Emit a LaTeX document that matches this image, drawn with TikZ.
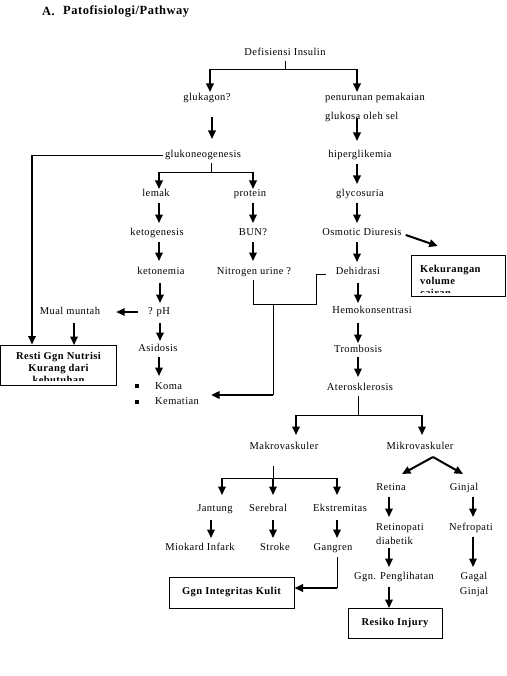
\documentclass[tikz,border=0pt]{standalone}
\usepackage{fontspec}
\setmainfont{Liberation Serif}[LetterSpace=4]
\usetikzlibrary{arrows.meta,calc}
\begin{document}
\begin{tikzpicture}[x=1pt,y=-1pt,
  font=\fontsize{10.5}{12}\selectfont,
  lbl/.style={inner sep=0pt,text height=7pt,text depth=2pt},
  bt/.style={inner sep=0pt,font=\fontsize{10.5}{12}\selectfont\bfseries},
  bx/.style={draw,line width=1pt,inner sep=0pt,font=\fontsize{10.5}{12}\selectfont\bfseries},
  arr/.style={line width=2pt,-{Triangle[width=7.5pt,length=8.5pt]}},
  ln/.style={line width=0.9pt},
  bul/.style={fill=black,inner sep=0pt,minimum size=4pt}]
\fill[white] (0,0) rectangle (506,676);
\useasboundingbox (0,0) rectangle (506,676);
% title
\node[inner sep=0pt,anchor=west,font=\fontsize{12.5}{14}\selectfont\bfseries] (titA) at (42,11) {A.};
\node[inner sep=0pt,anchor=west,font=\fontsize{12.5}{14}\selectfont\bfseries] (tit) at (63,11) {Patofisiologi/Pathway};
% nodes
\node[lbl] (defis) at (285,53) {Defisiensi Insulin};
\node[lbl] (glukagon) at (207,98) {glukagon?};
\node[lbl,anchor=west] (penurunan) at (325,98) {penurunan pemakaian};
\node[lbl,anchor=west] (glukosa) at (325,117) {glukosa oleh sel};
\node[lbl] (glukoneo) at (203,155) {glukoneogenesis};
\node[lbl] (hiper) at (360,155) {hiperglikemia};
\node[lbl] (lemak) at (156,194) {lemak};
\node[lbl] (protein) at (250,194) {protein};
\node[lbl] (glyco) at (360,194) {glycosuria};
\node[lbl] (keto) at (157,233) {ketogenesis};
\node[lbl] (bun) at (253,233) {BUN?};
\node[lbl] (osmotic) at (362,233) {Osmotic Diuresis};
\node[lbl] (ketonemia) at (161,272) {ketonemia};
\node[lbl] (nitrogen) at (254,272) {Nitrogen urine ?};
\node[lbl] (dehidrasi) at (358,272) {Dehidrasi};
\node[lbl] (ph) at (159,312) {? pH};
\node[lbl] (mual) at (70,312) {Mual muntah};
\node[lbl] (hemo) at (372,311) {Hemokonsentrasi};
\node[lbl] (asidosis) at (158,349) {Asidosis};
\node[lbl] (trombosis) at (358,350) {Trombosis};
\node[bul] (b1) at (137,386) {};
\node[bul] (b2) at (137,402) {};
\node[lbl,anchor=west] (koma) at (155,387) {Koma};
\node[lbl,anchor=west] (kematian) at (155,402) {Kematian};
\node[lbl] (atero) at (360,388) {Aterosklerosis};
\node[lbl] (makro) at (284,447) {Makrovaskuler};
\node[lbl] (mikro) at (420,447) {Mikrovaskuler};
\node[lbl] (retina) at (391,488) {Retina};
\node[lbl] (ginjal) at (464,488) {Ginjal};
\node[lbl] (jantung) at (215,509) {Jantung};
\node[lbl] (serebral) at (268,509) {Serebral};
\node[lbl] (ekstrem) at (340,509) {Ekstremitas};
\node[lbl,anchor=west] (retinopati) at (376,528) {Retinopati};
\node[lbl,anchor=west] (diabetik) at (376,542) {diabetik};
\node[lbl] (nefropati) at (471,528) {Nefropati};
\node[lbl] (miokard) at (200,548) {Miokard Infark};
\node[lbl] (stroke) at (275,548) {Stroke};
\node[lbl] (gangren) at (333,548) {Gangren};
\node[lbl] (ggnpeng) at (394,577) {Ggn. Penglihatan};
\node[lbl] (gagal) at (474,577) {Gagal};
\node[lbl] (gagalginjal) at (474,592) {Ginjal};
% boxes
\node[bx,minimum width=116pt,minimum height=40pt] (resti) at (58.5,365) {};
\begin{scope}
\clip (0,345) rectangle (117,380.5);
\node[bt,align=center] (restitext) at (58.5,368) {Resti Ggn Nutrisi\\Kurang dari\\kebutuhan};
\end{scope}
\node[bx,minimum width=94pt,minimum height=41pt] (kek) at (458,275.5) {};
\begin{scope}
\clip (411,255) rectangle (505,292);
\node[bt,align=left,anchor=north west] (kektext) at (420,265) {Kekurangan\\volume\\cairan};
\end{scope}
\node[bx,minimum width=125pt,minimum height=31pt] (ggnint) at (231.5,592.5) {Ggn Integritas Kulit};
\node[bx,minimum width=94pt,minimum height=30pt] (resiko) at (395,623) {Resiko Injury};
% connectors
\draw[ln] (defis) ++(0,8) -- ++(0,8) coordinate (dj);
\draw[ln] (dj) -- ++(-75,0) coordinate (djl) (dj) -- ++(72,0) coordinate (djr);
\draw[arr] (djl) -- ++(0,23);
\draw[arr] (djr) -- ++(0,23);
\draw[arr] (glukagon) ++(5,19) -- ++(0,22);
\draw[arr] (hiper) ++(-3,-37) -- ++(0,23);
\coordinate (gl) at (32,155);
\draw[ln] ([xshift=-2pt]glukoneo.west) -- (gl);
\draw[arr] (gl) -- (gl |- resti.north);
\draw[ln] (glukoneo) ++(8,8) -- ++(0,9) coordinate (gj);
\draw[ln] (gj) -- ++(-52,0) coordinate (gjl) (gj) -- ++(42,0) coordinate (gjr);
\draw[arr] (gjl) -- ++(0,17);
\draw[arr] (gjr) -- ++(0,17);
\draw[arr] (lemak) ++(3,9) -- ++(0,20);
\draw[arr] (keto) ++(2,9) -- ++(0,19);
\draw[arr] (protein) ++(3,9) -- ++(0,20);
\draw[arr] (bun) ++(0,9) -- ++(0,19);
\draw[arr] (hiper) ++(-3,9) -- ++(0,20);
\draw[arr] (glyco) ++(-3,9) -- ++(0,20);
\draw[arr] (osmotic) ++(-5,9) -- ++(0,20);
\draw[arr] (osmotic.east) ++(4,2) -- ++(32,11);
\draw[arr] (dehidrasi) ++(0,11) -- ++(0,20);
\draw[arr] (hemo) ++(-14,12) -- ++(0,20);
\draw[arr] (trombosis) ++(0,7) -- ++(0,20);
\draw[arr] (ketonemia) ++(-1,11) -- ++(0,20);
\draw[arr] ([xshift=-10pt]ph.west) -- ([xshift=16pt]mual.east);
\draw[arr] (mual) ++(4,11) -- ++(0,22);
\draw[arr] (ph) ++(1,11) -- ++(0,18);
\draw[arr] (asidosis) ++(1,8) -- ++(0,19);
\draw[ln] (nitrogen) ++(-1,8) -- ++(0,24) coordinate (n2) -- ++(63,0) |- ([xshift=-10pt,yshift=-2pt]dehidrasi.west);
\draw[ln] (n2) ++(20,0) -- ++(0,91) coordinate (n3);
\draw[arr] (n3) -- ([xshift=12pt,yshift=7pt]kematian.east);
\draw[ln] (atero) ++(-2,8) -- ++(0,19) coordinate (aj);
\draw[ln] (aj) -- ++(-62,0) coordinate (ajl) (aj) -- ++(64,0) coordinate (ajr);
\draw[arr] (ajl) -- ++(0,20);
\draw[arr] (ajr) -- ++(0,20);
\draw[ln] (makro) ++(-11,19) -- ++(0,12) coordinate (mj);
\draw[ln] (mj) -- ++(-51,0) coordinate (mjl) (mj) -- ++(64,0) coordinate (mjr);
\draw[arr] (mjl) -- ++(0,17);
\draw[arr] (mj) -- ++(0,17);
\draw[arr] (mjr) -- ++(0,17);
\draw[arr] (mikro) ++(13,10) coordinate (mi) -- ++(-31,17);
\draw[arr] (mi) -- ++(30,17);
\draw[arr] (retina) ++(-2,9) -- ++(0,20);
\draw[arr] (ginjal) ++(9,9) -- ++(0,20);
\draw[arr] (jantung) ++(-4,11) -- ++(0,18);
\draw[arr] (serebral) ++(5,11) -- ++(0,18);
\draw[arr] (ekstrem) ++(-3,11) -- ++(0,18);
\draw[ln] (gangren) ++(4,9) -- ++(0,31) coordinate (gg);
\draw[arr] (gg) -- (gg -| ggnint.east);
\draw[arr] (ggnpeng) ++(-5,-29) -- ++(0,19);
\draw[arr] (ggnpeng) ++(-5,10) -- ++(0,21);
\draw[arr] (nefropati) ++(2,9) -- ++(0,30);
\end{tikzpicture}
\end{document}
